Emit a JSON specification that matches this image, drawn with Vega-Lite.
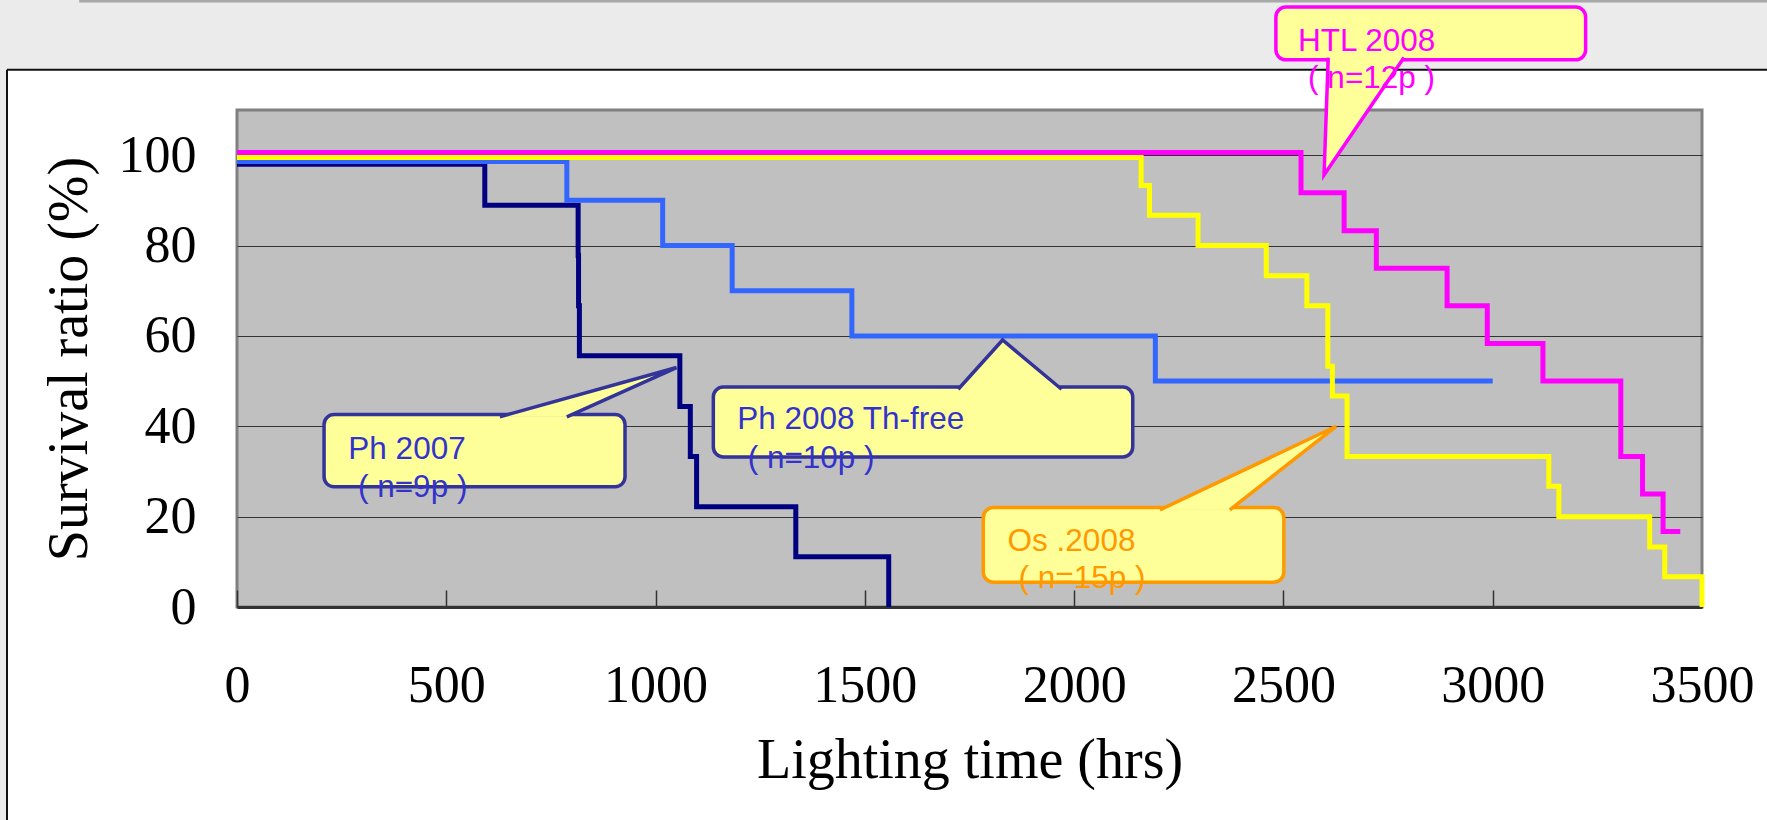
{
  "$schema": "https://vega.github.io/schema/vega-lite/v6.json",
  "width": 1465,
  "height": 497,
  "autosize": {"type": "none"},
  "padding": {"left": 237, "top": 110, "right": 65, "bottom": 213},
  "background": "white",
  "config": {"view": {"fill": "#c0c0c0", "stroke": "#808080", "strokeWidth": 3}},
  "datasets": {
    "curves": [
      {"series": "Ph 2007", "i": 0, "hours": 0, "survival": 98.0},
      {"series": "Ph 2007", "i": 1, "hours": 592, "survival": 88.9},
      {"series": "Ph 2007", "i": 2, "hours": 815, "survival": 77.8},
      {"series": "Ph 2007", "i": 3, "hours": 816, "survival": 66.7},
      {"series": "Ph 2007", "i": 4, "hours": 818, "survival": 55.6},
      {"series": "Ph 2007", "i": 5, "hours": 1058, "survival": 44.4},
      {"series": "Ph 2007", "i": 6, "hours": 1083, "survival": 33.3},
      {"series": "Ph 2007", "i": 7, "hours": 1098, "survival": 22.2},
      {"series": "Ph 2007", "i": 8, "hours": 1335, "survival": 11.1},
      {"series": "Ph 2007", "i": 9, "hours": 1557, "survival": 0},
      {"series": "Ph 2008 Th-free", "i": 0, "hours": 0, "survival": 98.6},
      {"series": "Ph 2008 Th-free", "i": 1, "hours": 788, "survival": 90},
      {"series": "Ph 2008 Th-free", "i": 2, "hours": 1017, "survival": 80},
      {"series": "Ph 2008 Th-free", "i": 3, "hours": 1183, "survival": 70},
      {"series": "Ph 2008 Th-free", "i": 4, "hours": 1469, "survival": 60},
      {"series": "Ph 2008 Th-free", "i": 5, "hours": 2194, "survival": 50},
      {"series": "Ph 2008 Th-free", "i": 6, "hours": 3000, "survival": 50},
      {"series": "Os 2008", "i": 0, "hours": 0, "survival": 99.5},
      {"series": "Os 2008", "i": 1, "hours": 2160, "survival": 93.3},
      {"series": "Os 2008", "i": 2, "hours": 2180, "survival": 86.7},
      {"series": "Os 2008", "i": 3, "hours": 2296, "survival": 80},
      {"series": "Os 2008", "i": 4, "hours": 2459, "survival": 73.3},
      {"series": "Os 2008", "i": 5, "hours": 2556, "survival": 66.7},
      {"series": "Os 2008", "i": 6, "hours": 2606, "survival": 53.3},
      {"series": "Os 2008", "i": 7, "hours": 2617, "survival": 46.7},
      {"series": "Os 2008", "i": 8, "hours": 2652, "survival": 33.3},
      {"series": "Os 2008", "i": 9, "hours": 3134, "survival": 26.7},
      {"series": "Os 2008", "i": 10, "hours": 3158, "survival": 20},
      {"series": "Os 2008", "i": 11, "hours": 3375, "survival": 13.3},
      {"series": "Os 2008", "i": 12, "hours": 3411, "survival": 6.7},
      {"series": "Os 2008", "i": 13, "hours": 3500, "survival": 6.7},
      {"series": "Os 2008", "i": 14, "hours": 3500, "survival": 0},
      {"series": "HTL 2008", "i": 0, "hours": 0, "survival": 100.6},
      {"series": "HTL 2008", "i": 1, "hours": 2542, "survival": 91.7},
      {"series": "HTL 2008", "i": 2, "hours": 2645, "survival": 83.3},
      {"series": "HTL 2008", "i": 3, "hours": 2722, "survival": 75},
      {"series": "HTL 2008", "i": 4, "hours": 2891, "survival": 66.7},
      {"series": "HTL 2008", "i": 5, "hours": 2987, "survival": 58.3},
      {"series": "HTL 2008", "i": 6, "hours": 3120, "survival": 50},
      {"series": "HTL 2008", "i": 7, "hours": 3306, "survival": 33.3},
      {"series": "HTL 2008", "i": 8, "hours": 3358, "survival": 25},
      {"series": "HTL 2008", "i": 9, "hours": 3407, "survival": 16.7},
      {"series": "HTL 2008", "i": 10, "hours": 3448, "survival": 16.7}
    ],
    "backdrop": [
      {"x1": -700, "x2": 4500, "y1": 118.9, "y2": 150},
      {"x1": -700, "x2": -549.5, "y1": -100, "y2": 118.9}
    ],
    "borders": [
      {"x1": -549.5, "x2": 4500, "y1": 118.9, "y2": 118.9, "kind": "panel"},
      {"x1": -549.5, "x2": -549.5, "y1": -100, "y2": 118.9, "kind": "panel"},
      {"x1": -377, "x2": 4500, "y1": 134.1, "y2": 134.1, "kind": "top"}
    ],
    "boxes": [
      {"callout": "Ph 2007", "x1": 208, "x2": 927, "y1": 26.6, "y2": 42.6},
      {"callout": "Ph 2008 Th-free", "x1": 1138, "x2": 2140, "y1": 33.2, "y2": 48.7},
      {"callout": "Os 2008", "x1": 1783, "x2": 2501, "y1": 5.5, "y2": 22.0},
      {"callout": "HTL 2008", "x1": 2482, "x2": 3222, "y1": 121.1, "y2": 132.8}
    ],
    "pointerFills": [
      {"callout": "Ph 2007", "x": 628, "y": 42.1, "y2": 42.1},
      {"callout": "Ph 2007", "x": 788, "y": 46.23, "y2": 42.1},
      {"callout": "Ph 2007", "x": 1050, "y": 53.0, "y2": 53.0},
      {"callout": "Ph 2008 Th-free", "x": 1723, "y": 48.2, "y2": 48.2},
      {"callout": "Ph 2008 Th-free", "x": 1829, "y": 59.1, "y2": 48.2},
      {"callout": "Ph 2008 Th-free", "x": 1970, "y": 48.2, "y2": 48.2},
      {"callout": "Os 2008", "x": 2205, "y": 21.5, "y2": 21.5},
      {"callout": "Os 2008", "x": 2372, "y": 28.84, "y2": 21.5},
      {"callout": "Os 2008", "x": 2626, "y": 40.0, "y2": 40.0},
      {"callout": "HTL 2008", "x": 2597, "y": 95.6, "y2": 95.6},
      {"callout": "HTL 2008", "x": 2607, "y": 121.6, "y2": 96.96},
      {"callout": "HTL 2008", "x": 2788, "y": 121.6, "y2": 121.6}
    ],
    "pointers": [
      {"callout": "Ph 2007", "i": 0, "x": 628, "y": 42.1},
      {"callout": "Ph 2007", "i": 1, "x": 1050, "y": 53.0},
      {"callout": "Ph 2007", "i": 2, "x": 788, "y": 42.1},
      {"callout": "Ph 2008 Th-free", "i": 0, "x": 1723, "y": 48.2},
      {"callout": "Ph 2008 Th-free", "i": 1, "x": 1829, "y": 59.1},
      {"callout": "Ph 2008 Th-free", "i": 2, "x": 1970, "y": 48.2},
      {"callout": "Os 2008", "i": 0, "x": 2205, "y": 21.5},
      {"callout": "Os 2008", "i": 1, "x": 2626, "y": 40.0},
      {"callout": "Os 2008", "i": 2, "x": 2372, "y": 21.5},
      {"callout": "HTL 2008", "i": 0, "x": 2607, "y": 121.6},
      {"callout": "HTL 2008", "i": 1, "x": 2597, "y": 95.6},
      {"callout": "HTL 2008", "i": 2, "x": 2788, "y": 121.6}
    ],
    "labels": [
      {"callout": "Ph 2007", "x": 266, "y": 32.7, "label": "Ph 2007"},
      {"callout": "Ph 2007", "x": 289, "y": 24.3, "label": "( n=9p )"},
      {"callout": "Ph 2008 Th-free", "x": 1195, "y": 39.3, "label": "Ph 2008 Th-free"},
      {"callout": "Ph 2008 Th-free", "x": 1220, "y": 30.7, "label": "( n=10p )"},
      {"callout": "Os 2008", "x": 1841, "y": 12.4, "label": "Os .2008"},
      {"callout": "Os 2008", "x": 1867, "y": 4.1, "label": "( n=15p )"},
      {"callout": "HTL 2008", "x": 2535, "y": 123.1, "label": "HTL 2008"},
      {"callout": "HTL 2008", "x": 2559, "y": 114.8, "label": "( n=12p )"}
    ]
  },
  "layer": [
    {
      "data": {"name": "curves"},
      "mark": {"type": "line", "interpolate": "step-after", "strokeWidth": 5},
      "encoding": {
        "x": {
          "field": "hours", "type": "quantitative",
          "scale": {"domain": [0, 3500], "nice": false, "zero": false},
          "axis": {
            "values": [0, 500, 1000, 1500, 2000, 2500, 3000, 3500],
            "format": "d",
            "title": "Lighting time (hrs)",
            "grid": false,
            "labelFont": "Liberation Serif", "labelFontSize": 52, "labelColor": "#000000",
            "labelFlush": false, "labelOverlap": false, "labelPadding": 70,
            "tickSize": -17, "tickColor": "#333333", "tickWidth": 1.5,
            "domainColor": "#333333", "domainWidth": 3,
            "titleFont": "Liberation Serif", "titleFontSize": 56, "titleFontWeight": "normal",
            "titleColor": "#000000", "titlePadding": 22
          }
        },
        "y": {
          "field": "survival", "type": "quantitative",
          "scale": {"domain": [0, 110], "nice": false, "zero": false},
          "axis": {
            "values": [0, 20, 40, 60, 80, 100],
            "format": "d",
            "title": "Survival ratio (%)",
            "grid": true, "gridColor": "#333333", "gridWidth": 1.2,
            "ticks": false, "domain": false,
            "labelFont": "Liberation Serif", "labelFontSize": 52, "labelColor": "#000000",
            "labelPadding": 41,
            "titleFont": "Liberation Serif", "titleFontSize": 56, "titleFontWeight": "normal",
            "titleColor": "#000000", "titlePadding": 20
          }
        },
        "color": {
          "field": "series", "type": "nominal", "legend": null,
          "scale": {"domain": ["Ph 2007", "Ph 2008 Th-free", "Os 2008", "HTL 2008"], "range": ["#000080", "#3366ff", "#ffff00", "#ff00ff"]}
        },
        "order": {"field": "i", "type": "quantitative"}
      }
    },
    {
      "data": {"name": "backdrop"},
      "mark": {"type": "rect", "fill": "#ebebeb", "clip": false},
      "encoding": {
        "x": {"field": "x1", "type": "quantitative", "scale": {"domain": [0, 3500], "nice": false, "zero": false}},
        "x2": {"field": "x2"},
        "y": {"field": "y1", "type": "quantitative", "scale": {"domain": [0, 110], "nice": false, "zero": false}},
        "y2": {"field": "y2"}
      }
    },
    {
      "data": {"name": "borders"},
      "mark": {"type": "rule", "clip": false},
      "encoding": {
        "x": {"field": "x1", "type": "quantitative", "scale": {"domain": [0, 3500], "nice": false, "zero": false}},
        "x2": {"field": "x2"},
        "y": {"field": "y1", "type": "quantitative", "scale": {"domain": [0, 110], "nice": false, "zero": false}},
        "y2": {"field": "y2"},
        "strokeWidth": {"field": "kind", "type": "nominal", "legend": null, "scale": {"domain": ["panel", "top"], "range": [2, 3]}},
        "stroke": {"field": "kind", "type": "nominal", "legend": null, "scale": {"domain": ["panel", "top", "Ph 2007", "Ph 2008 Th-free", "Os 2008", "HTL 2008"], "range": ["#111111", "#a8a8a8", "#333399", "#333399", "#ff9900", "#ff00ff"]}}
      }
    },
    {
      "data": {"name": "boxes"},
      "mark": {"type": "rect", "fill": "#ffff99", "strokeWidth": 3.5, "cornerRadius": 10, "clip": false},
      "encoding": {
        "x": {"field": "x1", "type": "quantitative", "scale": {"domain": [0, 3500], "nice": false, "zero": false}},
        "x2": {"field": "x2"},
        "y": {"field": "y1", "type": "quantitative", "scale": {"domain": [0, 110], "nice": false, "zero": false}},
        "y2": {"field": "y2"},
        "stroke": {"field": "callout", "type": "nominal", "legend": null}
      }
    },
    {
      "data": {"name": "pointerFills"},
      "mark": {"type": "area", "orient": "vertical", "fill": "#ffff99", "clip": false},
      "encoding": {
        "x": {"field": "x", "type": "quantitative", "scale": {"domain": [0, 3500], "nice": false, "zero": false}},
        "y": {"field": "y", "type": "quantitative", "scale": {"domain": [0, 110], "nice": false, "zero": false}},
        "y2": {"field": "y2"},
        "detail": {"field": "callout", "type": "nominal"}
      }
    },
    {
      "data": {"name": "pointers"},
      "mark": {"type": "line", "strokeWidth": 3.5, "strokeJoin": "miter", "clip": false},
      "encoding": {
        "x": {"field": "x", "type": "quantitative", "scale": {"domain": [0, 3500], "nice": false, "zero": false}},
        "y": {"field": "y", "type": "quantitative", "scale": {"domain": [0, 110], "nice": false, "zero": false}},
        "stroke": {"field": "callout", "type": "nominal", "legend": null},
        "order": {"field": "i", "type": "quantitative"}
      }
    },
    {
      "data": {"name": "labels"},
      "mark": {"type": "text", "font": "Liberation Sans", "fontSize": 31.5, "align": "left", "baseline": "alphabetic", "clip": false},
      "encoding": {
        "x": {"field": "x", "type": "quantitative", "scale": {"domain": [0, 3500], "nice": false, "zero": false}},
        "y": {"field": "y", "type": "quantitative", "scale": {"domain": [0, 110], "nice": false, "zero": false}},
        "text": {"field": "label"},
        "fill": {
          "field": "callout", "type": "nominal", "legend": null,
          "scale": {"domain": ["Ph 2007", "Ph 2008 Th-free", "Os 2008", "HTL 2008"], "range": ["#3333cc", "#3333cc", "#ff9900", "#ff00ff"]}
        }
      }
    }
  ]
}
